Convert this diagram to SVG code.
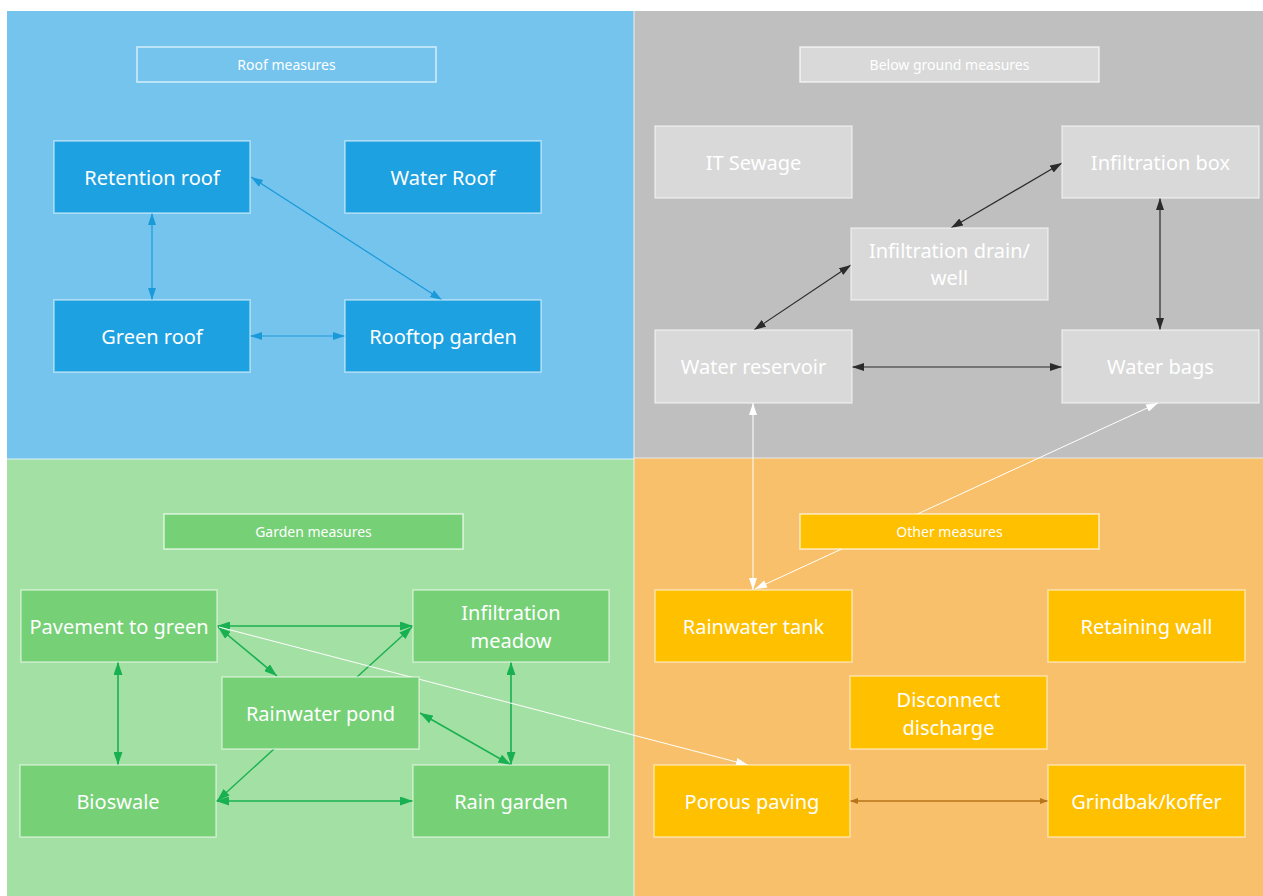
<svg xmlns="http://www.w3.org/2000/svg" width="1263" height="896" viewBox="0 0 1263 896">
<style>
.node rect{stroke:#ffffff;stroke-opacity:0.55;stroke-width:1.5}
.node text,.lbl text{font-family:"Noto Sans","Liberation Sans",sans-serif;fill:#ffffff;text-anchor:middle;dominant-baseline:central}
.node text{font-size:20px}
.lbl text{font-size:14px}
.lbl rect{stroke:#ffffff;stroke-opacity:0.7;stroke-width:1.5}
.b rect{fill:#1ea1e1}
.g rect{fill:#d9d9d9}
.gr rect{fill:#75d076}
.o rect{fill:#ffc000}
.c line{fill:none}
</style>
<defs>
<marker id="mb" viewBox="0 0 12 8" refX="12" refY="4" markerWidth="12" markerHeight="8" markerUnits="userSpaceOnUse" orient="auto-start-reverse"><path d="M0,0 L12,4 L0,8 z" fill="#1a9ad8"/></marker>
<marker id="mk" viewBox="0 0 12 8" refX="12" refY="4" markerWidth="12" markerHeight="8" markerUnits="userSpaceOnUse" orient="auto-start-reverse"><path d="M0,0 L12,4 L0,8 z" fill="#2b2b2b"/></marker>
<marker id="mg" viewBox="0 0 13 9" refX="13" refY="4.5" markerWidth="13" markerHeight="9" markerUnits="userSpaceOnUse" orient="auto-start-reverse"><path d="M0,0 L13,4.5 L0,9 z" fill="#18b050"/></marker>
<marker id="mw" viewBox="0 0 12 8" refX="12" refY="4" markerWidth="12" markerHeight="8" markerUnits="userSpaceOnUse" orient="auto-start-reverse"><path d="M0,0 L12,4 L0,8 z" fill="#ffffff"/></marker>
<marker id="mo" viewBox="0 0 8 6" refX="8" refY="3" markerWidth="8" markerHeight="6" markerUnits="userSpaceOnUse" orient="auto-start-reverse"><path d="M0,0 L8,3 L0,6 z" fill="#b8741a"/></marker>
</defs>
<rect x="0" y="0" width="1263" height="896" fill="#ffffff"/>
<g id="panels">
<rect x="7" y="11" width="627" height="448" fill="#74c4ee"/>
<rect x="634" y="11" width="629" height="447" fill="#bfbfbf"/>
<rect x="7" y="459" width="627" height="437" fill="#a3e0a3"/>
<rect x="634" y="458" width="629" height="438" fill="#f8c06a"/>
<line x1="7" y1="459" x2="634" y2="459" stroke="#dff2fb" stroke-width="1"/>
<line x1="634" y1="458" x2="1263" y2="458" stroke="#e8e8e8" stroke-width="1"/>
<line x1="634" y1="11" x2="634" y2="896" stroke="#eeeeee" stroke-width="1"/>
</g>
<g id="connectors" class="c">
<line x1="152" y1="213" x2="152" y2="300" stroke="#1a9ad8" stroke-width="1.2" marker-start="url(#mb)" marker-end="url(#mb)"/>
<line x1="251" y1="177" x2="442" y2="300" stroke="#1a9ad8" stroke-width="1.2" marker-start="url(#mb)" marker-end="url(#mb)"/>
<line x1="250" y1="336" x2="345" y2="336" stroke="#1a9ad8" stroke-width="1.2" marker-start="url(#mb)" marker-end="url(#mb)"/>
<line x1="1062" y1="163" x2="951" y2="228" stroke="#2b2b2b" stroke-width="1.2" marker-start="url(#mk)" marker-end="url(#mk)"/>
<line x1="851" y1="265" x2="754" y2="330" stroke="#2b2b2b" stroke-width="1.2" marker-start="url(#mk)" marker-end="url(#mk)"/>
<line x1="1160" y1="198" x2="1160" y2="330" stroke="#2b2b2b" stroke-width="1.2" marker-start="url(#mk)" marker-end="url(#mk)"/>
<line x1="852" y1="367" x2="1062" y2="367" stroke="#2b2b2b" stroke-width="1.2" marker-start="url(#mk)" marker-end="url(#mk)"/>
<line x1="753" y1="403" x2="753" y2="590" stroke="#ffffff" stroke-width="1" marker-start="url(#mw)" marker-end="url(#mw)"/>
<line x1="1158" y1="403" x2="755" y2="589" stroke="#ffffff" stroke-width="1" marker-start="url(#mw)" marker-end="url(#mw)"/>
<line x1="217" y1="626" x2="413" y2="626" stroke="#18b050" stroke-width="1.6" marker-start="url(#mg)" marker-end="url(#mg)"/>
<line x1="218" y1="627" x2="277" y2="676" stroke="#18b050" stroke-width="1.6" marker-start="url(#mg)" marker-end="url(#mg)"/>
<line x1="357" y1="677" x2="412" y2="627" stroke="#18b050" stroke-width="1.4" marker-end="url(#mg)"/>
<line x1="118" y1="662" x2="118" y2="765" stroke="#18b050" stroke-width="1.6" marker-start="url(#mg)" marker-end="url(#mg)"/>
<line x1="511" y1="662" x2="511" y2="765" stroke="#18b050" stroke-width="1.6" marker-start="url(#mg)" marker-end="url(#mg)"/>
<line x1="420" y1="713" x2="511" y2="765" stroke="#18b050" stroke-width="1.6" marker-start="url(#mg)" marker-end="url(#mg)"/>
<line x1="274" y1="749" x2="217" y2="801" stroke="#18b050" stroke-width="1.4" marker-end="url(#mg)"/>
<line x1="216" y1="801" x2="413" y2="801" stroke="#18b050" stroke-width="1.6" marker-start="url(#mg)" marker-end="url(#mg)"/>
<line x1="219" y1="627" x2="748" y2="765" stroke="#ffffff" stroke-width="1" marker-end="url(#mw)"/>
<line x1="850" y1="801" x2="1048" y2="801" stroke="#b8741a" stroke-width="1.3" marker-start="url(#mo)" marker-end="url(#mo)"/>
</g>
<g id="lbl-roof" class="lbl"><rect x="137" y="47" width="299" height="35" fill="#74c4ee"/><text x="286.5" y="64.5">Roof measures</text></g>
<g id="lbl-below" class="lbl"><rect x="800" y="47" width="299" height="35" fill="#d9d9d9"/><text x="949.5" y="64.5">Below ground measures</text></g>
<g id="lbl-garden" class="lbl"><rect x="164" y="514" width="299" height="35" fill="#75d076"/><text x="313.5" y="531.5">Garden measures</text></g>
<g id="lbl-other" class="lbl"><rect x="800" y="514" width="299" height="35" fill="#ffc000"/><text x="949.5" y="531.5">Other measures</text></g>
<g id="n-retention" class="node b"><rect x="54" y="141" width="196" height="72"/><text x="152" y="177">Retention roof</text></g>
<g id="n-waterroof" class="node b"><rect x="345" y="141" width="196" height="72"/><text x="443" y="177">Water Roof</text></g>
<g id="n-greenroof" class="node b"><rect x="54" y="300" width="196" height="72"/><text x="152" y="336">Green roof</text></g>
<g id="n-rooftop" class="node b"><rect x="345" y="300" width="196" height="72"/><text x="443" y="336">Rooftop garden</text></g>
<g id="n-itsewage" class="node g"><rect x="655" y="126" width="197" height="72"/><text x="753.5" y="162">IT Sewage</text></g>
<g id="n-infbox" class="node g"><rect x="1062" y="126" width="197" height="72"/><text x="1160.5" y="162">Infiltration box</text></g>
<g id="n-infdrain" class="node g"><rect x="851" y="228" width="197" height="72"/><text x="949.5" y="250">Infiltration drain/</text><text x="949.5" y="277">well</text></g>
<g id="n-reservoir" class="node g"><rect x="655" y="330" width="197" height="73"/><text x="753.5" y="366.5">Water reservoir</text></g>
<g id="n-waterbags" class="node g"><rect x="1062" y="330" width="197" height="73"/><text x="1160.5" y="366.5">Water bags</text></g>
<g id="n-pavement" class="node gr"><rect x="21" y="590" width="196" height="72"/><text x="119" y="626">Pavement to green</text></g>
<g id="n-meadow" class="node gr"><rect x="413" y="590" width="196" height="72"/><text x="511" y="612">Infiltration</text><text x="511" y="640">meadow</text></g>
<g id="n-pond" class="node gr"><rect x="222" y="677" width="197" height="72"/><text x="320.5" y="713">Rainwater pond</text></g>
<g id="n-bioswale" class="node gr"><rect x="20" y="765" width="196" height="72"/><text x="118" y="801">Bioswale</text></g>
<g id="n-raingarden" class="node gr"><rect x="413" y="765" width="196" height="72"/><text x="511" y="801">Rain garden</text></g>
<g id="n-tank" class="node o"><rect x="655" y="590" width="197" height="72"/><text x="753.5" y="626">Rainwater tank</text></g>
<g id="n-wall" class="node o"><rect x="1048" y="590" width="197" height="72"/><text x="1146.5" y="626">Retaining wall</text></g>
<g id="n-disconnect" class="node o"><rect x="850" y="676" width="197" height="73"/><text x="948.5" y="699">Disconnect</text><text x="948.5" y="727">discharge</text></g>
<g id="n-porous" class="node o"><rect x="654" y="765" width="196" height="72"/><text x="752" y="801">Porous paving</text></g>
<g id="n-grindbak" class="node o"><rect x="1048" y="765" width="197" height="72"/><text x="1146.5" y="801">Grindbak/koffer</text></g>
</svg>
